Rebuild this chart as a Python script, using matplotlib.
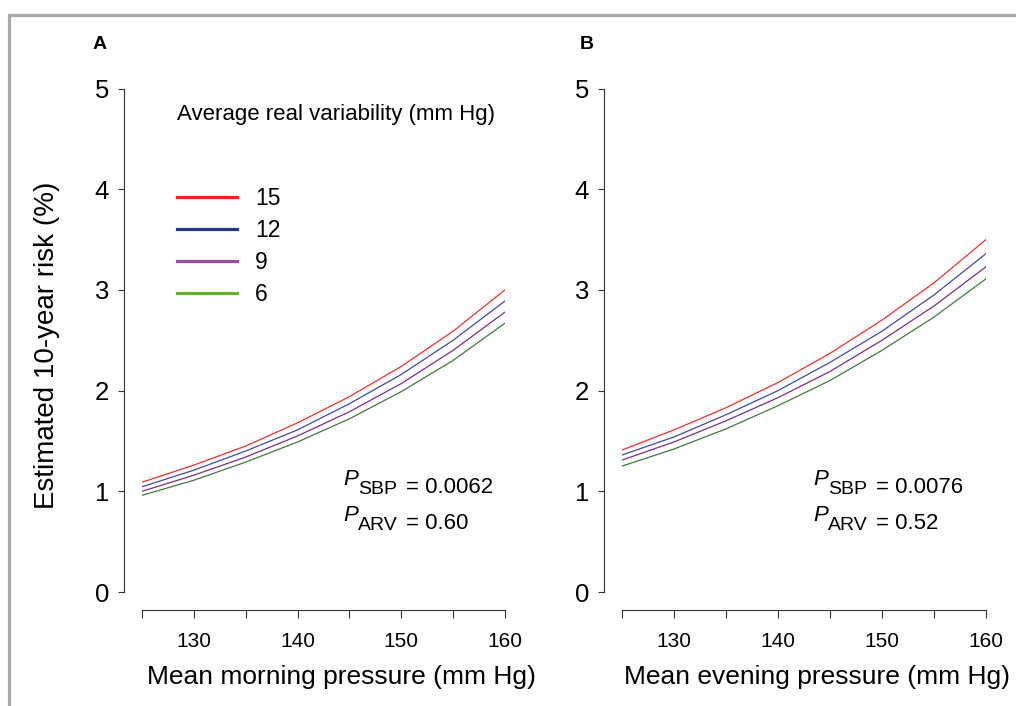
import matplotlib.pyplot as plt
from matplotlib.lines import Line2D
from matplotlib.patches import Rectangle

plt.rcParams['font.family'] = ['Liberation Sans', 'DejaVu Sans']

# data
pressure = [125, 130, 135, 140, 145, 150, 155, 160]
arv_labels = ['15', '12', '9', '6']

morning_15 = [1.09, 1.26, 1.45, 1.68, 1.94, 2.24, 2.59, 3.00]
morning_12 = [1.045, 1.21, 1.40, 1.61, 1.87, 2.16, 2.50, 2.89]
morning_9 = [1.00, 1.16, 1.34, 1.55, 1.79, 2.07, 2.40, 2.78]
morning_6 = [0.96, 1.11, 1.29, 1.49, 1.72, 1.99, 2.30, 2.67]

evening_15 = [1.41, 1.61, 1.83, 2.08, 2.37, 2.70, 3.07, 3.50]
evening_12 = [1.36, 1.54, 1.76, 2.00, 2.28, 2.59, 2.95, 3.36]
evening_9 = [1.31, 1.49, 1.70, 1.93, 2.19, 2.50, 2.84, 3.23]
evening_6 = [1.25, 1.42, 1.62, 1.85, 2.10, 2.40, 2.73, 3.11]

p_names = ['SBP', 'ARV']
p_morning = ['0.0062', '0.60']
p_evening = ['0.0076', '0.52']

curve_colors = ['#ff2a2a', '#3d48b4', '#7a2e8e', '#3f7a3c']
legend_colors = ['#ff2020', '#283593', '#9c4aa8', '#62b22e']

W, H = 1016, 706
fig = plt.figure(figsize=(W / 100, H / 100), dpi=100)

Y0, Y5 = 592, 88.5


def px_axes(left, right):
    return fig.add_axes([left / W, 1 - Y0 / H, (right - left) / W, (Y0 - Y5) / H])


def style(ax):
    ax.set_xlim(125, 160)
    ax.set_ylim(0, 5)
    for s in ['top', 'right']:
        ax.spines[s].set_visible(False)
    ax.spines['left'].set_position(('outward', 13.3))
    ax.spines['bottom'].set_position(('outward', 13))
    ax.spines['left'].set_bounds(0, 5)
    ax.spines['bottom'].set_bounds(125, 160)
    for s in ['left', 'bottom']:
        ax.spines[s].set_linewidth(0.8)
        ax.spines[s].set_color('#333333')
    ax.set_xticks(pressure)
    ax.set_xticklabels(['' if t % 10 else str(t) for t in pressure])
    ax.set_yticks(range(6))
    ax.tick_params(axis='x', length=6, width=0.8, color='#333333', labelsize=15, pad=9.5)
    ax.tick_params(axis='y', length=4.3, width=0.8, color='#333333', labelsize=18.5, pad=6)


def p_text(x0, pvals):
    # x0: pixel position of the italic P; rows by pixel baseline
    for name, val, base in zip(p_names, pvals, [493, 529]):
        fig.text(x0 / W, 1 - (base - 8) / H, 'P', style='italic', fontsize=16, va='baseline')
        fig.text((x0 + 15) / W, 1 - (base + 1) / H, name, fontsize=14, va='baseline')
        fig.text((x0 + 63) / W, 1 - base / H, '= ' + val, fontsize=16, va='baseline')


axA = px_axes(142, 505)
axB = px_axes(622, 986)

for ax, series in [(axA, [morning_15, morning_12, morning_9, morning_6]),
                   (axB, [evening_15, evening_12, evening_9, evening_6])]:
    style(ax)
    for vals, c in zip(series, curve_colors):
        ax.plot(pressure, vals, color=c, lw=0.9)

p_text(343, p_morning)
p_text(813, p_evening)

axA.text(0.55, (Y0 - 684) / (Y0 - Y5), 'Mean morning pressure (mm Hg)',
         transform=axA.transAxes, ha='center', va='baseline', fontsize=19)
axB.text(0.536, (Y0 - 684) / (Y0 - Y5), 'Mean evening pressure (mm Hg)',
         transform=axB.transAxes, ha='center', va='baseline', fontsize=19)
axA.set_ylabel('Estimated 10-year risk (%)', fontsize=20)
axA.yaxis.set_label_coords((60 - 142) / 363, (Y0 - 345.5) / (Y0 - Y5))

# legend
axA.text((177 - 142) / 363, (Y0 - 120) / (Y0 - Y5), 'Average real variability (mm Hg)',
         transform=axA.transAxes, fontsize=16, va='baseline')
handles = [Line2D([], [], color=c, lw=2.3) for c in legend_colors]
axA.legend(handles, arv_labels, loc='upper left',
           bbox_to_anchor=((177 - 142) / 363, (Y0 - 187) / (Y0 - Y5)),
           frameon=False, fontsize=16.5, handlelength=2.6, handletextpad=0.8,
           labelspacing=0.39, borderpad=0, borderaxespad=0)

fig.text(93 / W, 1 - 49 / H, 'A', fontsize=14, fontweight='bold', va='baseline')
fig.text(580 / W, 1 - 49 / H, 'B', fontsize=14, fontweight='bold', va='baseline')

fig.add_artist(Rectangle((9 / W, -0.5), 2, 1.5 - 15 / H, transform=fig.transFigure,
                         fill=False, edgecolor='#a8a8a8', lw=2.3))

fig.savefig('out.png', dpi=100)
